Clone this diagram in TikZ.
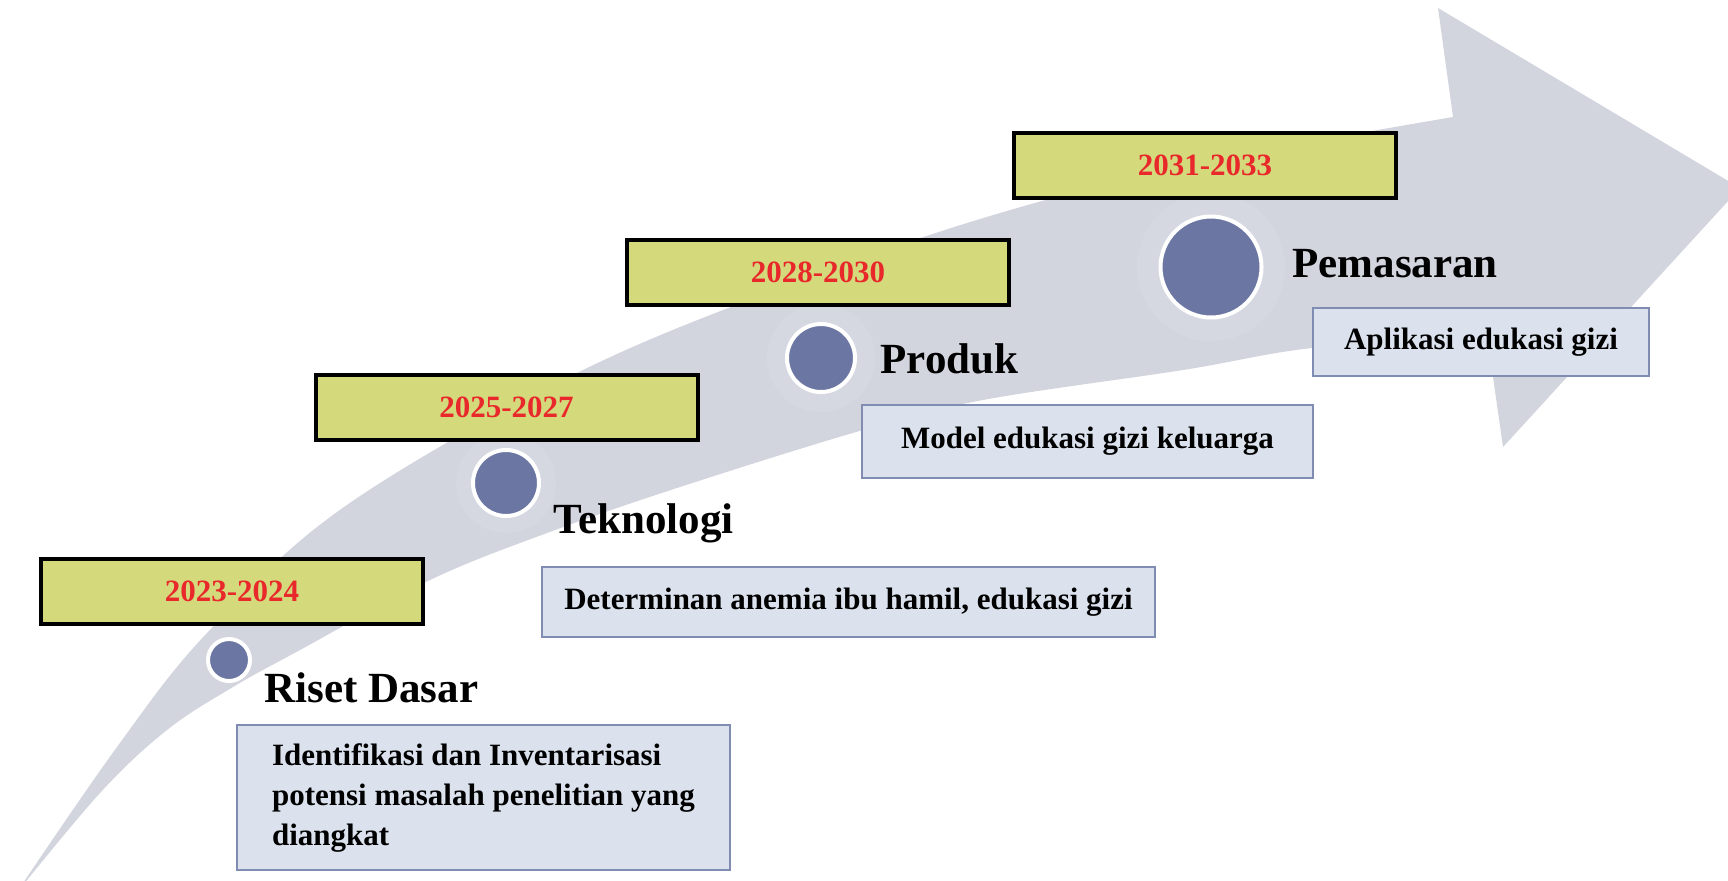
\documentclass[tikz,border=0pt]{standalone}
\usepackage{fontspec}
\setmainfont{Liberation Serif}
\usepackage{tikz}
\usetikzlibrary{positioning}
\definecolor{bandgray}{RGB}{210,212,222}
\definecolor{yearfill}{RGB}{212,218,124}
\definecolor{yearred}{RGB}{232,40,42}
\definecolor{dotblue}{RGB}{108,118,163}
\definecolor{descfill}{RGB}{219,226,237}
\definecolor{descline}{RGB}{128,140,178}
\tikzstyle{yearbox}=[draw=black,line width=2pt,fill=yearfill,minimum width=191pt,minimum height=32.5pt,inner sep=0pt,text=yearred,font=\bfseries\fontsize{15.5}{18}\selectfont]
\tikzstyle{dot}=[shape=circle,draw=white,line width=2pt,fill=dotblue,inner sep=0pt]
\tikzstyle{halo}=[fill=white,opacity=0.1]
\tikzstyle{title}=[anchor=base west,inner sep=0pt,font=\bfseries\fontsize{21.5}{24}\selectfont]
\tikzstyle{descbox}=[draw=descline,line width=1.2pt,fill=descfill,align=left,inner sep=0pt,font=\bfseries\fontsize{15.5}{20}\selectfont]

\begin{document}
\begin{tikzpicture}[x=0.5pt,y=-0.5pt]
\useasboundingbox (0,0) rectangle (1728,880);
\clip (0,0) rectangle (1728,880);

% arrow
\fill[bandgray] plot[smooth,tension=0.6] coordinates {(15,895) (117,747) (207,633) (344,507) (579,372) (800,281) (1000,213) (1200,163) (1453,117)}
  -- (1438,8) -- (1740,188) -- (1503,447) -- (1487,335)
  -- plot[smooth,tension=0.6] coordinates {(1487,335) (1312,348) (1183,370) (983,400) (863,430) (680,487) (547,533) (430,580) (300,650) (233,687) (167,730) (100,793) (15,895)} -- cycle;

\fill[halo] (506,483) circle (25pt);
\fill[halo] (821,358) circle (27pt);
\fill[halo] (1211,267) circle (37pt);

% 1st stage
\node[yearbox] (y1) at (232,591.5) {2023-2024};
\node[dot,minimum size=21pt] (c1) at (229,660) {};
\node[title] (t1) at (264,702) {Riset Dasar};
\node[descbox,minimum width=246.5pt,minimum height=72.5pt] (d1) at (483.5,797.5) {Identifikasi dan Inventarisasi\\potensi masalah penelitian yang\\diangkat};

% 2nd stage
\node[yearbox] (y2) at (506.5,407.5) {2025-2027};
\node[dot,minimum size=33pt] (c2) at (506,483) {};
\node[title] (t2) at (553,533) {Teknologi};
\node[descbox,minimum width=306.5pt,minimum height=35pt] (d2) at (848.5,602) {Determinan anemia ibu hamil, edukasi gizi};

% 3rd stage
\node[yearbox] (y3) at (818,272) {2028-2030};
\node[dot,minimum size=34pt] (c3) at (821,358) {};
\node[title] (t3) at (880,373) {Produk};
\node[descbox,minimum width=225.5pt,minimum height=36.5pt] (d3) at (1087.5,441.5) {Model edukasi gizi keluarga};

% 4th stage
\node[yearbox] (y4) at (1205,165.5) {2031-2033};
\node[dot,minimum size=50.5pt] (c4) at (1211,267) {};
\node[title] (t4) at (1292,277) {Pemasaran};
\node[descbox,minimum width=168pt,minimum height=34pt] (d4) at (1481,342) {Aplikasi edukasi gizi};

\end{tikzpicture}
\end{document}
